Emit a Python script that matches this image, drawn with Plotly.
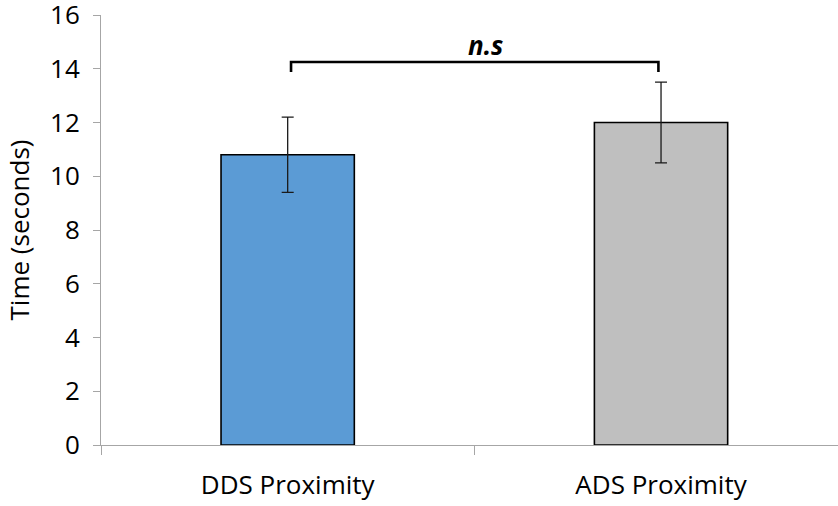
import plotly.graph_objects as go

# Mean time per condition with error bar half-widths
categories = ["DDS Proximity", "ADS Proximity"]
mean_time = [10.8, 12.0]
error = [1.4, 1.5]
bar_colors = ["#5b9bd5", "#bfbfbf"]

# Significance bracket between the two conditions
bracket_label = "n.s"
bracket_y = 14.25
bracket_drop = 0.37

y_ticks = [0, 2, 4, 6, 8, 10, 12, 14, 16]

FONT = "Open Sans"
AXIS_GRAY = "#a6a6a6"
TEXT_SIZE = 26

fig = go.Figure()

fig.add_trace(go.Bar(
    x=[0, 1],
    y=mean_time,
    width=0.357,
    marker=dict(color=bar_colors, line=dict(color="black", width=1.6)),
    error_y=dict(type="data", array=error, visible=True,
                 color="#1a1a1a", thickness=1.3, width=6),
    showlegend=False,
    hoverinfo="skip",
))

# Bracket: drops at each end, horizontal line across
fig.add_trace(go.Scatter(
    x=[0.009, 0.009, 0.993, 0.993],
    y=[bracket_y - bracket_drop, bracket_y, bracket_y, bracket_y - bracket_drop],
    mode="lines",
    line=dict(color="black", width=2.6, shape="linear"),
    showlegend=False,
    hoverinfo="skip",
))

fig.add_annotation(
    x=0.5, y=bracket_y, xref="x", yref="y",
    text="<b><i>" + bracket_label + "</i></b>",
    showarrow=False, xanchor="center", yanchor="bottom",
    xshift=11, yshift=-3,
    font=dict(family=FONT, size=26, color="black"),
)

fig.update_layout(
    width=838, height=506,
    margin=dict(l=101, r=0, t=15, b=61, pad=0, autoexpand=False),
    paper_bgcolor="white", plot_bgcolor="white",
    font=dict(family=FONT, size=TEXT_SIZE, color="black"),
    xaxis=dict(
        range=[-0.5, 1.474],
        automargin=False,
        tickmode="array", tickvals=[0, 1], ticktext=categories,
        ticks="",
        minor=dict(ticks="outside", tick0=-0.5, dtick=1, ticklen=9,
                   tickcolor=AXIS_GRAY, tickwidth=1, showgrid=False),
        showline=True, linecolor=AXIS_GRAY, linewidth=1,
        showgrid=False, zeroline=False,
        ticklabelstandoff=17,
        ticklabeloverflow="allow",
        tickfont=dict(family=FONT, size=TEXT_SIZE, color="black"),
    ),
    yaxis=dict(
        range=[0, 16],
        automargin=False,
        tickmode="array", tickvals=y_ticks,
        ticks="outside", ticklen=7, tickcolor=AXIS_GRAY, tickwidth=1,
        showline=True, linecolor=AXIS_GRAY, linewidth=1,
        showgrid=False, zeroline=False,
        ticklabelstandoff=8,
        ticklabeloverflow="allow",
        tickfont=dict(family=FONT, size=TEXT_SIZE, color="black"),
        title=dict(text="Time (seconds)", standoff=12,
                   font=dict(family=FONT, size=TEXT_SIZE, color="black")),
    ),
)

fig.write_html("out.html")
